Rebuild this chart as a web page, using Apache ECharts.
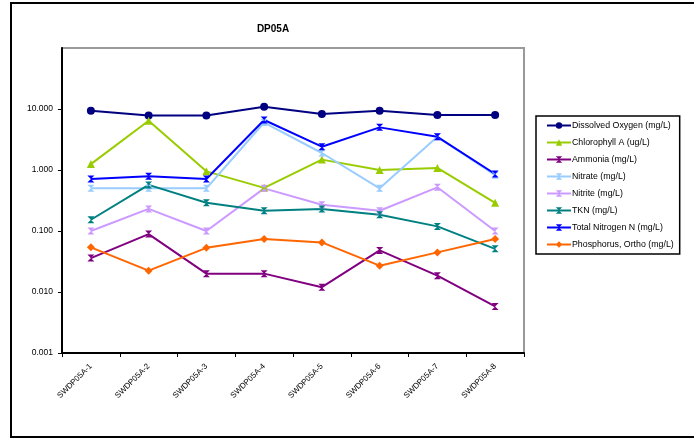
<!DOCTYPE html>
<html>
<head>
<meta charset="utf-8">
<script src="https://cdn.jsdelivr.net/npm/echarts@6/dist/echarts.min.js"></script>
<style>
  html, body { margin: 0; padding: 0; background: #fff; }
  #main { width: 694px; height: 444px; }
</style>
</head>
<body>
<div id="main"></div>
<script>
var sites = ['SWDP05A-1', 'SWDP05A-2', 'SWDP05A-3', 'SWDP05A-4', 'SWDP05A-5', 'SWDP05A-6', 'SWDP05A-7', 'SWDP05A-8'];

var dissolvedOxygen = [9.4, 7.8, 7.8, 10.9, 8.3, 9.4, 8.0, 8.0];
var chlorophyllA = [1.25, 6.4, 0.95, 0.51, 1.48, 1.0, 1.08, 0.29];
var ammonia = [0.036, 0.089, 0.020, 0.020, 0.012, 0.048, 0.0185, 0.0058];
var nitrate = [0.5, 0.5, 0.5, 6.0, 1.9, 0.5, 3.5, 0.82];
var nitrite = [0.1, 0.23, 0.1, 0.5, 0.27, 0.215, 0.52, 0.1];
var tkn = [0.153, 0.57, 0.29, 0.215, 0.23, 0.185, 0.119, 0.051];
var totalNitrogen = [0.71, 0.79, 0.71, 6.6, 2.41, 5.0, 3.5, 0.86];
var phosphorus = [0.054, 0.0224, 0.053, 0.074, 0.065, 0.027, 0.0446, 0.074];

var bowtie = 'path://M0,0L10,0L0,10L10,10Z';

var seriesDefs = [
    { name: 'Dissolved Oxygen (mg/L)', data: dissolvedOxygen, color: '#000080', symbol: 'circle', size: 8 },
    { name: 'Chlorophyll A (ug/L)', data: chlorophyllA, color: '#99CC00', symbol: 'triangle', size: 8 },
    { name: 'Ammonia (mg/L)', data: ammonia, color: '#800080', symbol: bowtie, size: 7 },
    { name: 'Nitrate (mg/L)', data: nitrate, color: '#99CCFF', symbol: bowtie, size: 7 },
    { name: 'Nitrite (mg/L)', data: nitrite, color: '#CC99FF', symbol: bowtie, size: 7 },
    { name: 'TKN (mg/L)', data: tkn, color: '#008080', symbol: bowtie, size: 7 },
    { name: 'Total Nitrogen N (mg/L)', data: totalNitrogen, color: '#0000FF', symbol: bowtie, size: 7 },
    { name: 'Phosphorus, Ortho (mg/L)', data: phosphorus, color: '#FF6600', symbol: 'diamond', size: 8 }
];

var myChart = echarts.init(document.getElementById('main'));

var option = {
    backgroundColor: '#fff',
    animation: false,
    textStyle: { fontFamily: 'Liberation Sans, Arial, sans-serif' },
    title: {
        text: 'DP05A',
        left: 268,
        top: 19,
        textAlign: 'center',
        textStyle: { fontSize: 10, fontWeight: 'bold', color: '#000' }
    },
    graphic: [
        {
            type: 'rect',
            shape: { x: 11, y: 3, width: 700, height: 434 },
            style: { fill: 'none', stroke: '#000', lineWidth: 2 },
            silent: true
        }
    ],
    legend: {
        orient: 'vertical',
        left: 536,
        top: 116,
        padding: [5, 6, 5, 10],
        itemWidth: 24,
        itemHeight: 8,
        itemGap: 8,
        borderColor: '#000',
        borderWidth: 1.5,
        textStyle: { fontSize: 8.8, color: '#000', padding: [0, 0, 0, -4] },
        data: seriesDefs.map(function (s) { return s.name; })
    },
    grid: {
        left: 62,
        top: 48,
        width: 462,
        height: 305,
        show: true,
        borderColor: '#999',
        borderWidth: 2,
        containLabel: false
    },
    xAxis: {
        type: 'category',
        data: sites,
        boundaryGap: true,
        axisLine: { lineStyle: { color: '#000', width: 2 } },
        axisTick: { show: true, length: 4, lineStyle: { color: '#000' } },
        axisLabel: { rotate: 45, fontSize: 8, color: '#000', margin: 12, interval: 0 },
        splitLine: { show: false }
    },
    yAxis: {
        type: 'log',
        logBase: 10,
        min: 0.001,
        max: 100,
        axisLine: { show: true, lineStyle: { color: '#000', width: 2 } },
        axisTick: { show: true, length: 4, lineStyle: { color: '#000' } },
        axisLabel: {
            fontSize: 8.5,
            color: '#000',
            margin: 9,
            showMaxLabel: false,
            formatter: function (v) { return v.toFixed(3); }
        },
        splitLine: { show: false }
    },
    series: seriesDefs.map(function (s) {
        return {
            name: s.name,
            type: 'line',
            data: s.data,
            symbol: s.symbol,
            symbolSize: s.size,
            showAllSymbol: true,
            lineStyle: { color: s.color, width: 2 },
            itemStyle: { color: s.color }
        };
    })
};

myChart.setOption(option);
</script>
</body>
</html>
